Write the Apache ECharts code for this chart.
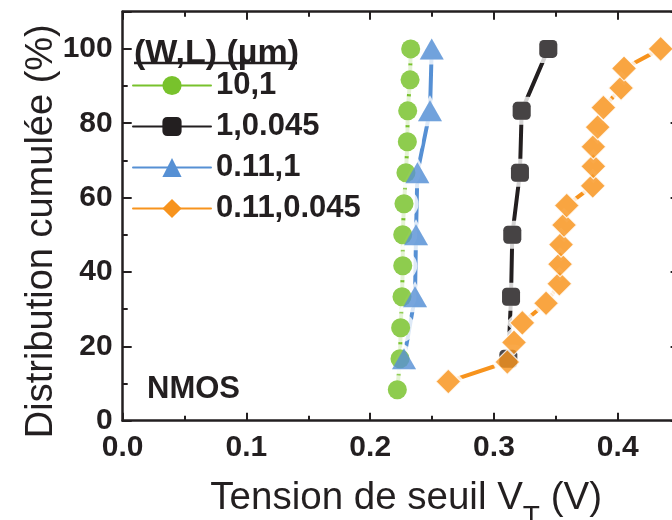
<!DOCTYPE html>
<html>
<head>
<meta charset="utf-8">
<script src="https://cdn.jsdelivr.net/npm/echarts@6/dist/echarts.min.js"></script>
<style>html,body{margin:0;padding:0;background:#fff}#c{width:672px;height:520px}</style>
</head>
<body>
<div id="c"></div>
<script>
// ---- data ----
const seriesNames = ['10,1', '1,0.045', '0.11,1', '0.11,0.045'];
const vt_10_1 = [0.2219, 0.2241, 0.2246, 0.2257, 0.2263, 0.2263, 0.2273, 0.2289, 0.2300, 0.2303, 0.2322, 0.2327];
const cum_10_1 = [8.33, 16.67, 25, 33.33, 41.67, 50, 58.33, 66.67, 75, 83.33, 91.67, 100];
const vt_1_0045 = [0.3116, 0.3138, 0.3148, 0.3210, 0.3224, 0.3439];
const cum_1_0045 = [16.67, 33.33, 50, 66.67, 83.33, 100];
const vt_011_1 = [0.2273, 0.2362, 0.2370, 0.2381, 0.2483, 0.2497];
const cum_011_1 = [16.67, 33.33, 50, 66.67, 83.33, 100];
const vt_011_0045 = [0.2631, 0.3108, 0.3162, 0.3229, 0.3421, 0.3528, 0.3534, 0.3542, 0.3566, 0.3588, 0.3798, 0.3803, 0.3803, 0.3838, 0.3884, 0.4027, 0.4051, 0.4347];
const cum_011_0045 = [10.53, 15.79, 21.05, 26.32, 31.58, 36.84, 42.11, 47.37, 52.63, 57.89, 63.16, 68.42, 73.68, 78.95, 84.21, 89.47, 94.74, 100];
const xTickLabels = ['0.0', '0.1', '0.2', '0.3', '0.4'];
const yTickLabels = ['0', '20', '40', '60', '80', '100'];
const legendTitle = '(W,L) (µm)';
const annotation = 'NMOS';

// ---- styling ----
const FONT = '"Liberation Sans", Arial, Helvetica, sans-serif';
const INK = '#231F20';
const groups = [
  { name: seriesNames[0], x: vt_10_1, y: cum_10_1, color: '#78C22C', symbol: 'circle', size: 19, halo: 29 },
  { name: seriesNames[1], x: vt_1_0045, y: cum_1_0045, color: INK, symbol: 'roundRect', size: 18, halo: 28 },
  { name: seriesNames[2], x: vt_011_1, y: cum_011_1, color: '#5690D4', symbol: 'triangle', size: [24, 21], halo: [34, 31] },
  { name: seriesNames[3], x: vt_011_0045, y: cum_011_0045, color: '#F7931D', symbol: 'diamond', size: 25, halo: 34, border: true }
];
const pairs = g => g.x.map((v, i) => [v, g.y[i]]);

const series = [];
groups.forEach(g => {
  series.push({
    type: 'line', name: g.name, data: pairs(g), z: 2,
    symbol: g.symbol, symbolSize: g.size, showAllSymbol: true,
    lineStyle: { color: g.color, width: 4, cap: 'round' },
    itemStyle: { color: g.color },
    animation: false, silent: true
  });
});
groups.forEach((g, i) => {
  series.push({
    type: 'scatter', name: 'halo' + i, data: pairs(g), z: 3,
    symbol: g.symbol, symbolSize: g.halo,
    itemStyle: { color: '#ffffff' }, animation: false, silent: true
  });
});
groups.forEach((g, i) => {
  series.push({
    type: 'scatter', name: 'pts' + i, data: pairs(g), z: 4,
    symbol: g.symbol, symbolSize: g.size,
    itemStyle: g.border ? { color: g.color, borderColor: '#ffffff', borderWidth: 1.2 } : { color: g.color },
    animation: false, silent: true
  });
});

const axisLine = { show: true, onZero: false, lineStyle: { color: INK, width: 2.5 } };
const tickStyle = { color: INK, width: 2 };
function xAx(pos, showLabels) {
  return {
    type: 'value', position: pos, min: 0, max: 0.45, interval: 0.1,
    axisLine: axisLine,
    axisTick: { show: true, inside: true, length: 8, lineStyle: tickStyle },
    minorTick: { show: true, splitNumber: 2, length: 5, lineStyle: tickStyle },
    splitLine: { show: false }, minorSplitLine: { show: false },
    axisLabel: {
      show: showLabels, showMaxLabel: false, margin: 12,
      fontSize: 30, fontWeight: 'bold', color: INK, fontFamily: FONT,
      formatter: v => { const s = v.toFixed(1); return xTickLabels.includes(s) ? s : ''; }
    }
  };
}
function yAx(pos, showLabels) {
  return {
    type: 'value', position: pos, min: 0, max: 110, interval: 20,
    axisLine: axisLine,
    axisTick: { show: true, inside: true, length: 9, lineStyle: tickStyle },
    minorTick: { show: true, splitNumber: 2, length: 5, lineStyle: tickStyle },
    splitLine: { show: false }, minorSplitLine: { show: false },
    axisLabel: {
      show: showLabels, showMaxLabel: false, margin: 10,
      fontSize: 30, fontWeight: 'bold', color: INK, fontFamily: FONT,
      formatter: v => { const s = String(v); return yTickLabels.includes(s) ? s : ''; }
    }
  };
}
const xMain = xAx('bottom', true);
xMain.name = '{a|Tension de seuil V}{b|T}{a| (V)}';
xMain.nameLocation = 'middle';
xMain.nameGap = 58;
xMain.nameTextStyle = {
  padding: [0, 0, 0, 10],
  rich: {
    a: { fontSize: 38.5, fontFamily: FONT, color: INK, lineHeight: 40, verticalAlign: 'top' },
    b: { fontSize: 28, fontFamily: FONT, color: INK, lineHeight: 28, padding: [25, 0, 0, 0], verticalAlign: 'top' }
  }
};
const xTop = xAx('top', false);
const yMain = yAx('left', true);
yMain.name = 'Distribution cumulée (%)';
yMain.nameLocation = 'middle';
yMain.nameMoveOverlap = false;
yMain.nameGap = 62;
yMain.nameTextStyle = { fontSize: 38, fontFamily: FONT, color: INK, padding: [0, 30, 0, 0] };
const yRight = yAx('right', false);

const chart = echarts.init(document.getElementById('c'), null, { renderer: 'canvas' });
chart.setOption({
  backgroundColor: '#ffffff',
  animation: false,
  grid: { left: 122.7, top: 11.7, right: -7.6, bottom: 99.3, containLabel: false, outerBoundsMode: 'none' },
  xAxis: [xMain, xTop],
  yAxis: [yMain, yRight],
  legend: {
    data: seriesNames, orient: 'vertical', left: 132, top: 70, padding: 0,
    itemWidth: 78, itemHeight: 24, itemGap: 10, selectedMode: false,
    textStyle: { fontSize: 31, fontWeight: 'bold', color: INK, fontFamily: FONT }
  },
  graphic: [
    { type: 'text', left: 134, top: 37, z: 10,
      style: { text: legendTitle, font: 'bold 34px ' + FONT, fill: INK } },
    { type: 'line', z: 10, shape: { x1: 134, y1: 63, x2: 297, y2: 63 },
      style: { stroke: INK, lineWidth: 2.7 } },
    { type: 'text', left: 147, top: 374, z: 10,
      style: { text: annotation, font: 'bold 31px ' + FONT, fill: INK } }
  ],
  series: series
});
</script>
</body>
</html>
